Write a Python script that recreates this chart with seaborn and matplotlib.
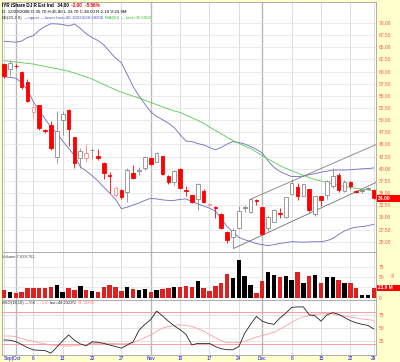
import numpy as np
import matplotlib
matplotlib.use("Agg")
import matplotlib.pyplot as plt
from matplotlib.patches import Rectangle
import seaborn as sns

sns.set_style("white")
plt.rcParams["font.family"] = ["Liberation Sans", "DejaVu Sans"]

# trading days 9/29/2008 .. 12/29/2008 (index 0..63)
opens = [61.6, 60.5, 61.2, 59.9, 57.9, 51.6, 53.1, 47.9, 49.0, 42.4,
         50.0, 52.2, 46.6, 42.2, 42.2, 43.8, 42.6, 41.1, 38.8, 34.6,
         35.6, 35.3, 39.2, 39.6, 40.1, 42.2, 41.5, 42.6, 38.5, 37.35,
         40.0, 35.6, 34.6, 33.7, 35.5, 32.6, 32.0, 30.8, 26.9, 25.9,
         27.75, 32.0, 31.2, 33.5, 32.1, 27.75, 29.1, 30.9, 30.0, 34.8,
         36.3, 34.5, 35.8, 30.6, 34.3, 34.6, 36.5, 38.7, 35.5, 37.2,
         35.4, 35.4, 35.9, 35.7]
highs = [61.8, 62.4, 61.5, 60.2, 58.4, 53.3, 53.2, 48.1, 49.8, 51.9,
         51.9, 52.4, 46.6, 44.2, 45.2, 44.2, 44.0, 41.5, 39.4, 36.5,
         35.8, 40.1, 40.8, 40.4, 42.6, 42.4, 43.5, 42.6, 38.7, 39.75,
         40.1, 36.5, 34.7, 37.0, 35.8, 33.0, 32.3, 30.9, 27.3, 27.75,
         32.3, 32.5, 33.9, 33.7, 32.2, 30.4, 31.7, 31.9, 34.1, 38.0,
         37.0, 36.9, 35.9, 34.5, 34.4, 37.6, 40.1, 39.2, 37.6, 37.4,
         35.7, 35.7, 36.2, 35.8]
lows = [58.7, 59.0, 60.8, 56.4, 53.8, 50.2, 48.0, 47.4, 43.9, 41.1,
        47.0, 44.7, 40.2, 40.1, 41.5, 42.0, 41.8, 37.8, 35.0, 34.1,
        33.7, 33.2, 38.0, 38.7, 39.75, 40.8, 41.3, 38.8, 36.9, 36.7,
        35.9, 34.3, 33.0, 31.5, 32.9, 32.2, 29.8, 27.6, 24.8, 23.7,
        27.55, 31.2, 31.0, 32.5, 26.4, 27.3, 29.0, 29.9, 29.9, 34.6,
        33.6, 34.3, 31.2, 30.3, 32.4, 33.8, 36.0, 35.3, 35.3, 35.8,
        35.0, 35.1, 35.6, 33.7]
closes = [59.1, 61.8, 61.1, 56.9, 53.95, 52.8, 48.3, 47.8, 44.2, 47.8,
          51.3, 48.1, 41.1, 43.7, 43.2, 43.95, 42.2, 39.2, 38.6, 36.0,
          34.1, 39.75, 38.2, 39.8, 42.5, 41.0, 43.2, 38.9, 37.35, 39.55,
          36.1, 35.5, 33.1, 36.9, 33.2, 32.8, 31.9, 27.75, 25.35, 27.4,
          31.3, 32.15, 33.7, 33.4, 26.5, 30.1, 31.6, 30.7, 34.1, 37.0,
          34.3, 36.8, 31.5, 34.4, 33.6, 37.55, 38.5, 35.6, 37.35, 36.5,
          35.3, 35.5, 36.0, 34.0]
volume_m = [18.6, 13.0, 10.6, 14.5, 22.7, 22.7, 22.7, 24.2, 24.9, 30.0,
            14.5, 22.7, 18.6, 29.0, 18.6, 16.2, 14.5, 24.9, 30.7, 24.9,
            16.2, 25.9, 21.8, 19.4, 21.8, 13.0, 19.4, 21.8, 24.2, 24.9,
            26.6, 27.4, 26.6, 40.4, 22.7, 17.0, 28.3, 36.3, 57.4, 47.0,
            92.0, 52.5, 30.0, 10.6, 41.2, 63.0, 55.0, 50.8, 51.8, 42.0,
            62.2, 34.9, 51.8, 55.7, 36.3, 50.0, 50.0, 42.9, 34.9, 35.6,
            22.7, 5.7, 5.7, 23.9]
bb_upper = [66.26, 66.15, 66.05, 66.3, 67.0, 67.4, 68.5, 69.3, 69.85, 69.8,
            69.7, 69.4, 69.8, 68.9, 67.8, 67.0, 66.4, 65.5, 64.1, 62.8,
            61.8, 59.4, 56.9, 55.0, 53.3, 51.7, 50.8, 50.1, 49.4, 48.5,
            47.0, 45.7, 45.6, 45.2, 44.9, 44.4, 43.9, 44.4, 45.1, 45.6,
            45.4, 45.1, 44.6, 44.0, 43.25, 41.6, 40.3, 39.45, 38.9, 38.4,
            38.4, 38.5, 38.8, 39.0, 39.3, 39.5, 39.75, 39.75, 39.75, 39.8,
            39.9, 40.0, 40.05, 40.18]
bb_lower = [58.95, 58.8, 58.65, 57.75, 56.2, 53.8, 52.0, 50.25, 48.6, 47.4,
            45.7, 44.2, 42.75, 40.4, 39.55, 38.6, 37.5, 36.2, 35.0, 33.7,
            31.8, 32.1, 32.55, 32.95, 33.5, 33.9, 33.8, 33.6, 33.5, 33.5,
            33.7, 33.8, 33.3, 32.75, 32.35, 31.9, 31.3, 29.8, 28.1, 27.0,
            25.9, 25.4, 25.05, 24.6, 24.4, 24.2, 24.4, 24.65, 24.8, 25.0,
            24.95, 24.9, 24.95, 25.0, 25.0, 25.2, 25.65, 26.5, 27.2, 27.7,
            28.0, 28.1, 28.3, 28.58]
ma50 = [62.24, 62.1, 61.98, 61.83, 61.69, 61.56, 61.3, 61.07, 60.82, 60.6,
        60.35, 60.08, 59.7, 59.3, 58.9, 58.48, 57.9, 57.35, 56.8, 56.25,
        55.76, 55.35, 54.96, 54.57, 54.1, 53.66, 53.2, 52.76, 52.3, 51.9,
        51.6, 51.07, 50.5, 49.98, 49.36, 48.6, 47.9, 47.2, 46.5, 45.8,
        45.25, 44.7, 44.18, 43.45, 42.7, 42.0, 41.36, 40.66, 40.1, 39.6,
        39.14, 38.66, 38.2, 37.78, 37.5, 37.22, 36.9, 36.6, 36.34, 36.15,
        35.99, 35.8, 35.65, 35.51]
sso_k = [27.5, 27, 24.5, 19, 13, 8.7, 8, 7.4, 2.5, 14,
         26, 37, 27, 20, 16.5, 24, 23, 21, 18, 15,
         12, 18, 24, 46, 57, 66, 82, 73, 63, 54,
         47, 38, 18, 21, 21, 21, 15, 11, 9, 9,
         15, 40, 57, 72, 63, 59, 57, 69, 78, 89,
         90, 90, 75, 73, 63, 75, 79, 76, 70, 64,
         60, 57, 55, 48.2]
sso_d = [35, 35, 34, 30, 27, 25, 22, 20, 18, 17,
         16, 16, 16.5, 18, 19, 21, 21.5, 21.5, 21, 20.5,
         20, 20.5, 22, 27, 32, 37, 44, 50, 53, 55,
         56, 55, 53, 49, 44, 38, 32, 26, 22.5, 22,
         23, 25, 29, 33, 36, 39, 42, 48, 54, 61,
         67, 71, 74, 76, 77, 78, 77, 75, 73, 71,
         69, 67, 66, 64.4]
# channel lines drawn on the chart: (day index, price) end points
channel_upper_x = [41.9, 63.4]
channel_upper_y = [33.7, 45.0]
channel_lower_x = [39.1, 63.4]
channel_lower_y = [23.6, 37.2]

date_ticks = [1.4, 5, 10, 15, 20, 25, 30, 35, 40, 44, 49, 54, 59, 63]
date_labels = ["Sep|Oct", "6", "13", "20", "27", "Nov", "10", "17", "24", "Dec", "8", "15", "22", "29"]
week_lines = [0, 5, 10, 15, 20, 30, 35, 40, 49, 54, 59, 63]
month_lines = [2, 25, 44]

W, H = 400, 362
BG = "#FFFFCC"
TICK_RED = "#FF5050"
fig = plt.figure(figsize=(W / 100, H / 100), dpi=100, facecolor=BG)


def panel(top, bottom):
    return fig.add_axes([2 / W, 1 - bottom / H, 374 / W, (bottom - top) / H])


ax = panel(2, 252)
axv = panel(252, 299.5)
axs = panel(299.5, 354.5)

idx = np.arange(len(closes))
o, c, h, l = map(np.array, (opens, closes, highs, lows))
down = np.r_[True, c[1:] < c[:-1]]
filled = c < o

for a in (ax, axv, axs):
    a.set_facecolor("white")
    a.set_xlim(-0.34, 63.37)
    for x in week_lines:
        a.axvline(x, color="#D8D8D8", lw=0.6, zorder=0)
    for x in month_lines:
        a.axvline(x, color="#B8B8B8", lw=1.0, zorder=0)
    for s in a.spines.values():
        s.set_color("#A0A0A0")
        s.set_linewidth(0.6)
    a.yaxis.tick_right()
    a.tick_params(axis="y", labelsize=3.5, labelcolor=TICK_RED, length=0, pad=2)
    a.tick_params(axis="x", length=0)

# --- price panel
ax.set_ylim(22.88, 74.32)
yt = np.arange(25, 70.01, 2.5)
ax.set_yticks(yt)
ax.set_yticklabels([f"{v:.2f}" for v in yt])
for v in yt:
    ax.axhline(v, color="#E2E2E2", lw=0.5, zorder=0)
ax.set_xticks([])

sns.lineplot(x=idx, y=bb_upper, ax=ax, color="#6A6AC0", lw=0.6)
sns.lineplot(x=idx, y=bb_lower, ax=ax, color="#6A6AC0", lw=0.6)
sns.lineplot(x=idx, y=ma50, ax=ax, color="#55CC55", lw=0.6)
ax.plot(channel_upper_x, channel_upper_y, color="#808080", lw=0.6)
ax.plot(channel_lower_x, channel_lower_y, color="#707070", lw=0.6)

body_h = np.where(np.abs(c - o) < 0.15, 0.15, np.abs(c - o))
body_b = np.minimum(o, c)
edge = np.where(down, np.where(filled, "#FF0000", "#FF8A8A"), np.where(filled, "#000000", "#8A8A8A"))
face = np.where(filled, np.where(down, "#FF0000", "#000000"), "white")
face = np.where(np.abs(c - o) < 0.15, edge, face)
ax.vlines(idx, l, h, colors=edge, lw=0.6, zorder=3)
ax.bar(idx, body_h, bottom=body_b, width=0.62, color=face, edgecolor=edge, lw=0.6, zorder=4)

# --- volume panel
axv.set_ylim(-4.4, 110.7)
axv.set_yticks([0, 50, 75])
axv.set_yticklabels(["0", "50", "75"])
for v in (25, 50, 75):
    axv.axhline(v, color="#E2E2E2", lw=0.5, zorder=0)
direction = np.where(down, "dn", "up")
sns.barplot(x=idx, y=volume_m, hue=direction, palette={"dn": "#FF0000", "up": "#000000"},
            native_scale=True, dodge=False, legend=False, width=0.75, errorbar=None,
            linewidth=0, ax=axv, zorder=3)
axv.set_xlim(-0.34, 63.37)
axv.set_xticks([])
axv.set_xlabel("")
axv.set_ylabel("")

# --- slow stochastic panel
axs.set_ylim(0, 104)
axs.set_yticks([25, 50, 75])
axs.set_yticklabels(["25", "50", "75"])
for v in (25, 50, 75):
    axs.axhline(v, color="#DDDDDD", lw=0.6, zorder=0)
for v in (20, 80):
    axs.axhline(v, color="#FF9C9C", lw=0.7, zorder=1)
sns.lineplot(x=idx, y=sso_d, ax=axs, color="#FFA0A0", lw=0.6)
sns.lineplot(x=idx, y=sso_k, ax=axs, color="#222222", lw=0.6)
axs.set_xticks(date_ticks)
axs.set_xticklabels(date_labels)
axs.tick_params(axis="x", labelsize=3.4, labelcolor="#0000FF", pad=1.2)
axs.set_xlabel("")
axs.set_ylabel("")


# --- header texts
def text_run(a, x, y, parts, size=3.2, weight="normal"):
    t = a.annotate(parts[0][0], xy=(x / W, 1 - y / H), xycoords="figure fraction",
                   color=parts[0][1], fontsize=size, fontweight=weight, va="bottom",
                   annotation_clip=False)
    for s, col in parts[1:]:
        t = a.annotate(s, xy=(1, 0), xycoords=t, xytext=(1.2, 0), textcoords="offset points",
                       color=col, fontsize=size, fontweight=weight, va="bottom",
                       annotation_clip=False)


text_run(ax, 2, 8, [("IYR iShare DJ R Est Ind", "#000000"), (" 34.00", "#000000"),
                    (" -2.00", "#FF0000"), (" -5.56%", "#FF0000")], size=3.3, weight="bold")
text_run(ax, 2, 14, [("D: 12/29/2008 O:35.70 H:35.80 L:33.70 C:34.00 R:2.10 V:23.9M", "#000000")])
text_run(ax, 2, 20, [("BB(20,2.0)", "#333333"), ("\u2014upper \u2014lower last=40.18224/28.58206", "#5555BB"),
                     ("MA(50) \u2014 last=35.5092", "#33BB33")])
text_run(axv, 2, 258.5, [("Volume 7,838,761", "#444444")], size=3.0)
text_run(axs, 2, 305, [("SSO(18,10) \u2014%K", "#222222"), ("\u2014%D", "#FF8080"),
                       ("last=48.23225/", "#222222"), ("64.39358", "#FF8080")], size=3.0)

# --- last value tags on the right axis
fig.add_artist(Rectangle((376.5 / W, 1 - 201.5 / H), 23.5 / W, 7 / H, transform=fig.transFigure,
                         facecolor="#FF0000", edgecolor="none"))
fig.text(378 / W, 1 - 198.2 / H, "34.00", color="white", fontsize=3.6, fontweight="bold", va="center")
fig.add_artist(Rectangle((376.5 / W, 1 - 291 / H), 23.5 / W, 6.5 / H, transform=fig.transFigure,
                         facecolor="#FF0000", edgecolor="none"))
fig.text(378 / W, 1 - 287.8 / H, "23.9 M", color="white", fontsize=3.4, fontweight="bold", va="center")
fig.text(392 / W, 1 - 274 / H, "Vol", color=TICK_RED, fontsize=2.8, rotation=90, va="center")

fig.savefig("out.png", dpi=100, facecolor=BG)
